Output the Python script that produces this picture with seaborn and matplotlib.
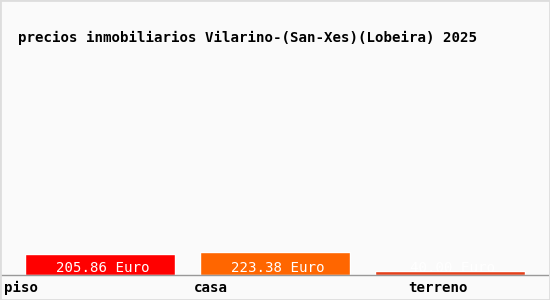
import matplotlib
matplotlib.use("Agg")
import matplotlib.pyplot as plt
import matplotlib.patches as mpatches
import seaborn as sns
import pandas as pd

categories = ["piso", "casa", "terreno"]
values = [205.86, 223.38, 40.0]
value_labels = ["205.86 Euro", "223.38 Euro", "40.00 Euro"]
colors = ["#ff0000", "#ff6600", "#e5401b"]
title = "precios inmobiliarios Vilarino-(San-Xes)(Lobeira) 2025"

sns.set_theme(style="white")
plt.rcParams["font.family"] = ["DejaVu Sans Mono", "DejaVu Sans"]

df = pd.DataFrame({"cat": categories, "val": values})

W, H = 550, 300
fig = plt.figure(figsize=(5.5, 3.0), dpi=100, facecolor="#fafafa")
fig.patches.append(mpatches.Rectangle((0, 0), 1, 1, transform=fig.transFigure,
                                      fill=False, edgecolor="#dddddd", linewidth=2))

ax_left, ax_right = 0 / W, 548 / W
ax_bottom, ax_top = 1 - 274.5 / H, 1 - 60 / H
ax = fig.add_axes([ax_left, ax_bottom, ax_right - ax_left, ax_top - ax_bottom])
ax.set_facecolor("#fafafa")

sns.barplot(data=df, x="cat", y="val", hue="cat", palette=colors, width=150 / 175,
            legend=False, ax=ax, saturation=1)

ax_h_px = 274.5 - 60
ymax = values[0] * ax_h_px / 20.5
ax.set_ylim(0, ymax)
ax.set_xlim(-100 / 175, (548 - 100) / 175)

for sp in ["top", "right", "left"]:
    ax.spines[sp].set_visible(False)
ax.spines["bottom"].set_color("#999999")
ax.spines["bottom"].set_linewidth(1)
ax.set_xticks([])
ax.set_yticks([])
ax.set_xlabel("")
ax.set_ylabel("")

for i, lab in enumerate(value_labels):
    ax.annotate(lab, xy=(i, 0), xytext=(2, 4.7), textcoords="offset points",
                ha="center", va="center", color="white", fontsize=10.2)

label_px = [4, 194, 408]
for lab, px in zip(categories, label_px):
    fig.text(px / W, 1 - 288 / H, lab, ha="left", va="center", fontsize=10.2,
             color="black", fontweight="bold")

fig.text(18 / W, 1 - 38 / H, title, ha="left", va="center", fontsize=10.2,
         color="black", fontweight="bold")

fig.savefig("out.png", dpi=100, facecolor=fig.get_facecolor())
